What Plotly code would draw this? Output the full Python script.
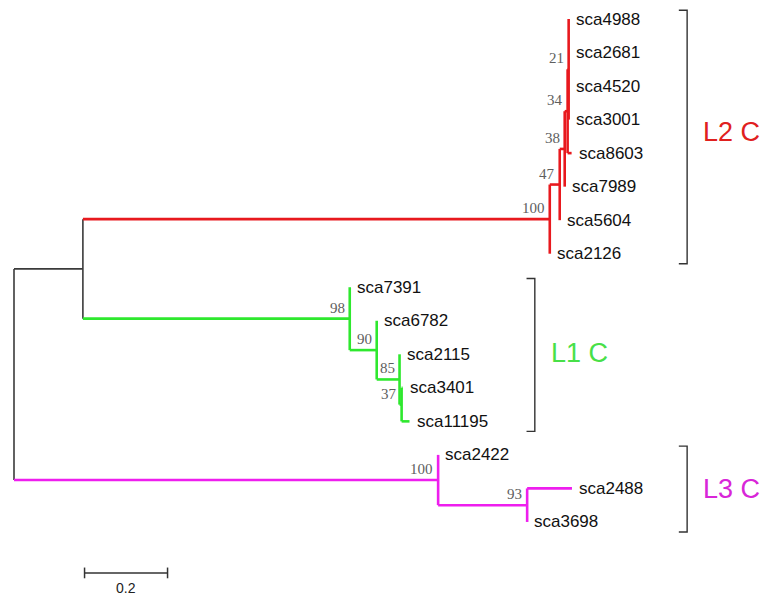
import plotly.graph_objects as go

# ---- tree data: one entry per node (parent listed before its children, children in drawing order)
node_ids = ["root", "A", "L2", "n47", "n38", "n34", "n21",
            "sca4988", "sca2681", "sca4520", "sca3001", "sca8603", "sca7989", "sca5604", "sca2126",
            "L1", "sca7391", "n90", "sca6782", "n85", "sca2115", "n37", "sca3401", "sca11195",
            "L3", "sca2422", "n93", "sca2488", "sca3698"]
parent_ids = [None, "root", "A", "L2", "n47", "n38", "n34",
              "n21", "n21", "n21", "n21", "n34", "n38", "n47", "L2",
              "A", "L1", "L1", "n90", "n90", "n85", "n85", "n37", "n37",
              "root", "L3", "L3", "n93", "n93"]
branch_lengths = [0.0, 0.166, 1.125, 0.024, 0.012, 0.007, 0.0025,
                  0.0, 0.0, 0.0, 0.0, 0.0096, 0.0, 0.0, 0.0,
                  0.643, 0.0, 0.065, 0.0, 0.055, 0.0, 0.005, 0.0025, 0.019,
                  1.022, 0.0, 0.2145, 0.108, 0.0]
bootstrap = [None, None, 100, 47, 38, 34, 21,
             None, None, None, None, None, None, None, None,
             98, None, 90, None, 85, None, 37, None, None,
             100, None, 93, None, None]

# clades: stem node, label, colour of branches, colour of label
clade_nodes = ["L2", "L1", "L3"]
clade_labels = ["L2 C", "L1 C", "L3 C"]
clade_colors = ["#E8191E", "#2EE82E", "#EE1EEE"]
clade_text_colors = ["#E0201E", "#48E048", "#D826D8"]

scale_length = 0.2

# ---- layout of the tree
children = {n: [] for n in node_ids}
for n, p in zip(node_ids, parent_ids):
    if p is not None:
        children[p].append(n)
blen = dict(zip(node_ids, branch_lengths))
boot = dict(zip(node_ids, bootstrap))
parent = dict(zip(node_ids, parent_ids))

xpos, ypos = {}, {}
leaf_order = []


def place(n, x):
    xpos[n] = x
    if not children[n]:
        ypos[n] = len(leaf_order)
        leaf_order.append(n)
        return
    for c in children[n]:
        place(c, x + blen[c])
    ypos[n] = (ypos[children[n][0]] + ypos[children[n][-1]]) / 2


place("root", 0.0)

BLACK = "#3A3A3A"
color_of = {}
for n in node_ids:
    c = BLACK
    m = n
    while m is not None:
        if m in clade_nodes:
            c = clade_colors[clade_nodes.index(m)]
            break
        m = parent[m]
    color_of[n] = c


def descendants_leaves(n):
    if not children[n]:
        return [n]
    out = []
    for c in children[n]:
        out += descendants_leaves(c)
    return out


segs = {}
for n in node_ids:
    col = color_of[n]
    xs, ys = segs.setdefault(col, ([], []))
    if parent[n] is not None and blen[n] > 0:
        xs += [xpos[parent[n]], xpos[n], None]
        ys += [ypos[n], ypos[n], None]
    if children[n]:
        first, last = children[n][0], children[n][-1]
        xs += [xpos[n], xpos[n], None]
        ys += [ypos[first], ypos[last], None]

fig = go.Figure()
for col, (xs, ys) in segs.items():
    fig.add_trace(go.Scatter(x=xs, y=ys, mode="lines", hoverinfo="skip",
                             line=dict(color=col, width=1.6 if col == BLACK else 2.6)))

annotations = []
# leaf names
for n in leaf_order:
    annotations.append(dict(x=xpos[n], y=ypos[n], text=n, showarrow=False,
                            xanchor="left", yanchor="middle", xshift=5,
                            font=dict(family="Liberation Sans, Arial", size=17, color="#111")))
# bootstrap support
for n in node_ids:
    if boot[n] is not None:
        annotations.append(dict(x=xpos[n], y=ypos[n], text=str(boot[n]), showarrow=False,
                                xanchor="right", yanchor="bottom", xshift=-3, yshift=1,
                                font=dict(family="Liberation Serif, Times New Roman", size=15,
                                          color="#5E5E5E")))

# clade brackets
bracket_x = {"L2": 1.622, "L1": 1.255, "L3": 1.622}
label_shift = {"L2": 5, "L1": 2, "L3": 0}
tick = 0.02
for cn, lab, tcol in zip(clade_nodes, clade_labels, clade_text_colors):
    leaves = descendants_leaves(cn)
    top = ypos[leaves[0]] - 0.26
    bot = ypos[leaves[-1]] + 0.3
    bx = bracket_x[cn]
    fig.add_trace(go.Scatter(x=[bx - tick, bx, bx, bx - tick], y=[top, top, bot, bot],
                             mode="lines", hoverinfo="skip",
                             line=dict(color="#333", width=1.4)))
    annotations.append(dict(x=bx, y=(top + bot) / 2, text=lab, showarrow=False,
                            xanchor="left", yanchor="middle", xshift=14, yshift=label_shift[cn],
                            font=dict(family="Liberation Sans, Arial", size=27, color=tcol)))

# scale bar
sb_x0 = 0.17
sb_y = 16.52
sb_h = 0.16
fig.add_trace(go.Scatter(
    x=[sb_x0, sb_x0 + scale_length, None, sb_x0, sb_x0, None,
       sb_x0 + scale_length, sb_x0 + scale_length],
    y=[sb_y, sb_y, None, sb_y - sb_h, sb_y + sb_h, None, sb_y - sb_h, sb_y + sb_h],
    mode="lines", hoverinfo="skip", line=dict(color="#333", width=1.5)))
annotations.append(dict(x=sb_x0 + scale_length / 2, y=sb_y, text=str(scale_length),
                        showarrow=False, xanchor="center", yanchor="top", yshift=-5,
                        font=dict(family="Liberation Sans, Arial", size=14, color="#222")))

fig.update_layout(
    width=769, height=601,
    margin=dict(l=0, r=0, t=0, b=0),
    paper_bgcolor="white", plot_bgcolor="white",
    showlegend=False,
    annotations=annotations,
    xaxis=dict(range=[-14 / 415, 755 / 415], visible=False, fixedrange=True),
    yaxis=dict(range=[582 / 33.53, -19 / 33.53], visible=False, fixedrange=True),
)

fig.write_html("out.html")
